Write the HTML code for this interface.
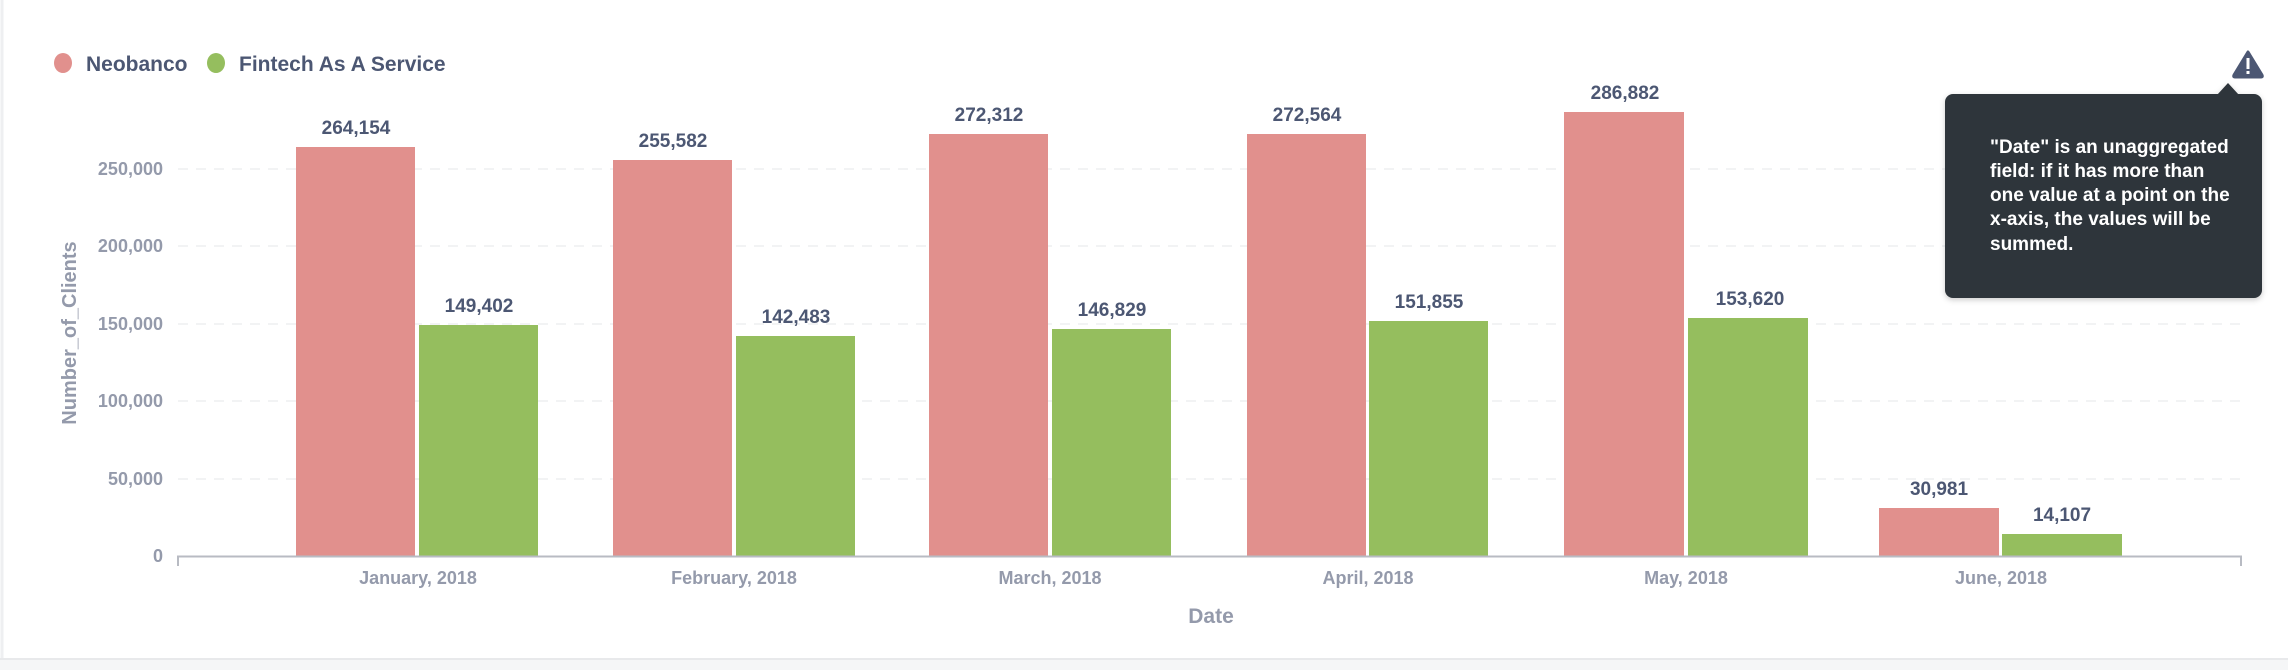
<!DOCTYPE html>
<html><head><meta charset="utf-8"><style>
html,body{margin:0;padding:0;background:#fff;}
body{width:2288px;height:670px;overflow:hidden;position:relative;font-family:"Liberation Sans",sans-serif;}
</style></head><body>
<svg width="2288" height="670" xmlns="http://www.w3.org/2000/svg" style="position:absolute;left:0;top:0">
<rect x="0" y="0" width="2288" height="670" fill="#fff"/>
<line x1="2" y1="0" x2="2" y2="660" stroke="#eeeff1" stroke-width="3"/>
<rect x="0" y="659" width="2288" height="11" fill="#f5f6f7"/>
<line x1="0" y1="659" x2="2288" y2="659" stroke="#e8e9eb" stroke-width="2"/>
<!-- legend -->
<ellipse cx="63" cy="63" rx="9" ry="10" fill="#e1908d"/>
<text x="86" y="71" font-size="21" fill="#4c5773" font-weight="bold">Neobanco</text>
<ellipse cx="216" cy="63" rx="9" ry="10" fill="#95be5e"/>
<text x="239" y="71" font-size="21" fill="#4c5773" font-weight="bold">Fintech As A Service</text>
<!-- grid -->
<g stroke="#eeeff1" stroke-width="1.5" stroke-dasharray="10,8">
<line x1="178" y1="169" x2="2241" y2="169"/>
<line x1="178" y1="246" x2="2241" y2="246"/>
<line x1="178" y1="324" x2="2241" y2="324"/>
<line x1="178" y1="401" x2="2241" y2="401"/>
<line x1="178" y1="479" x2="2241" y2="479"/>
</g>
<g font-size="18" font-weight="bold" fill="#949aab" text-anchor="end">
<text x="163" y="175">250,000</text>
<text x="163" y="252">200,000</text>
<text x="163" y="330">150,000</text>
<text x="163" y="407">100,000</text>
<text x="163" y="485">50,000</text>
<text x="163" y="562">0</text>
</g>
<text transform="translate(76,333) rotate(-90)" font-size="20" font-weight="bold" fill="#949aab" text-anchor="middle">Number_of_Clients</text>
<!-- bars -->
<g>
<rect x="296" y="147" width="119" height="409" fill="#e1908d"/>
<rect x="419" y="325" width="119" height="231" fill="#95be5e"/>
<rect x="613" y="160" width="119" height="396" fill="#e1908d"/>
<rect x="736" y="336" width="119" height="220" fill="#95be5e"/>
<rect x="929" y="134" width="119" height="422" fill="#e1908d"/>
<rect x="1052" y="329" width="119" height="227" fill="#95be5e"/>
<rect x="1247" y="134" width="119" height="422" fill="#e1908d"/>
<rect x="1369" y="321" width="119" height="235" fill="#95be5e"/>
<rect x="1564" y="112" width="120" height="444" fill="#e1908d"/>
<rect x="1688" y="318" width="120" height="238" fill="#95be5e"/>
<rect x="1879" y="508" width="120" height="48" fill="#e1908d"/>
<rect x="2002" y="534" width="120" height="22" fill="#95be5e"/>
</g>
<g font-size="19" font-weight="bold" fill="#4c5773" text-anchor="middle">
<text x="356" y="134">264,154</text>
<text x="479" y="312">149,402</text>
<text x="673" y="147">255,582</text>
<text x="796" y="323">142,483</text>
<text x="989" y="121">272,312</text>
<text x="1112" y="316">146,829</text>
<text x="1307" y="121">272,564</text>
<text x="1429" y="308">151,855</text>
<text x="1625" y="99">286,882</text>
<text x="1750" y="305">153,620</text>
<text x="1939" y="495">30,981</text>
<text x="2062" y="521">14,107</text>
</g>
<!-- axis -->
<path d="M178 566 V556.5 H2241 V566" fill="none" stroke="#b8bbc3" stroke-width="2"/>
<g font-size="18" font-weight="bold" fill="#949aab" text-anchor="middle">
<text x="418" y="584">January, 2018</text>
<text x="734" y="584">February, 2018</text>
<text x="1050" y="584">March, 2018</text>
<text x="1368" y="584">April, 2018</text>
<text x="1686" y="584">May, 2018</text>
<text x="2001" y="584">June, 2018</text>
</g>
<text x="1211" y="623" font-size="21" font-weight="bold" fill="#949aab" text-anchor="middle">Date</text>
<!-- warning icon -->
<path d="M2248 52 L2262 75 Q2263 77 2261 77 L2235 77 Q2233 77 2234 75 Z" fill="#4c5773" stroke="#4c5773" stroke-width="3" stroke-linejoin="round"/>
<rect x="2246.5" y="58" width="3" height="11" fill="#fff"/>
<rect x="2246.5" y="71" width="3" height="3" fill="#fff"/>
<!-- tooltip -->
<defs><filter id="sh" x="-10%" y="-10%" width="120%" height="130%"><feDropShadow dx="0" dy="2" stdDeviation="3" flood-opacity="0.2"/></filter></defs>
<g filter="url(#sh)">
<rect x="1945" y="94" width="317" height="204" rx="8" fill="#2e353b"/>
<path d="M2217 95 L2228 83 L2239 95 Z" fill="#2e353b"/>
</g>
<g font-size="19" fill="#fff" font-weight="bold">
<text x="1990" y="153">"Date" is an unaggregated</text>
<text x="1990" y="177">field: if it has more than</text>
<text x="1990" y="201">one value at a point on the</text>
<text x="1990" y="225">x-axis, the values will be</text>
<text x="1990" y="250">summed.</text>
</g>
</svg>
</body></html>
